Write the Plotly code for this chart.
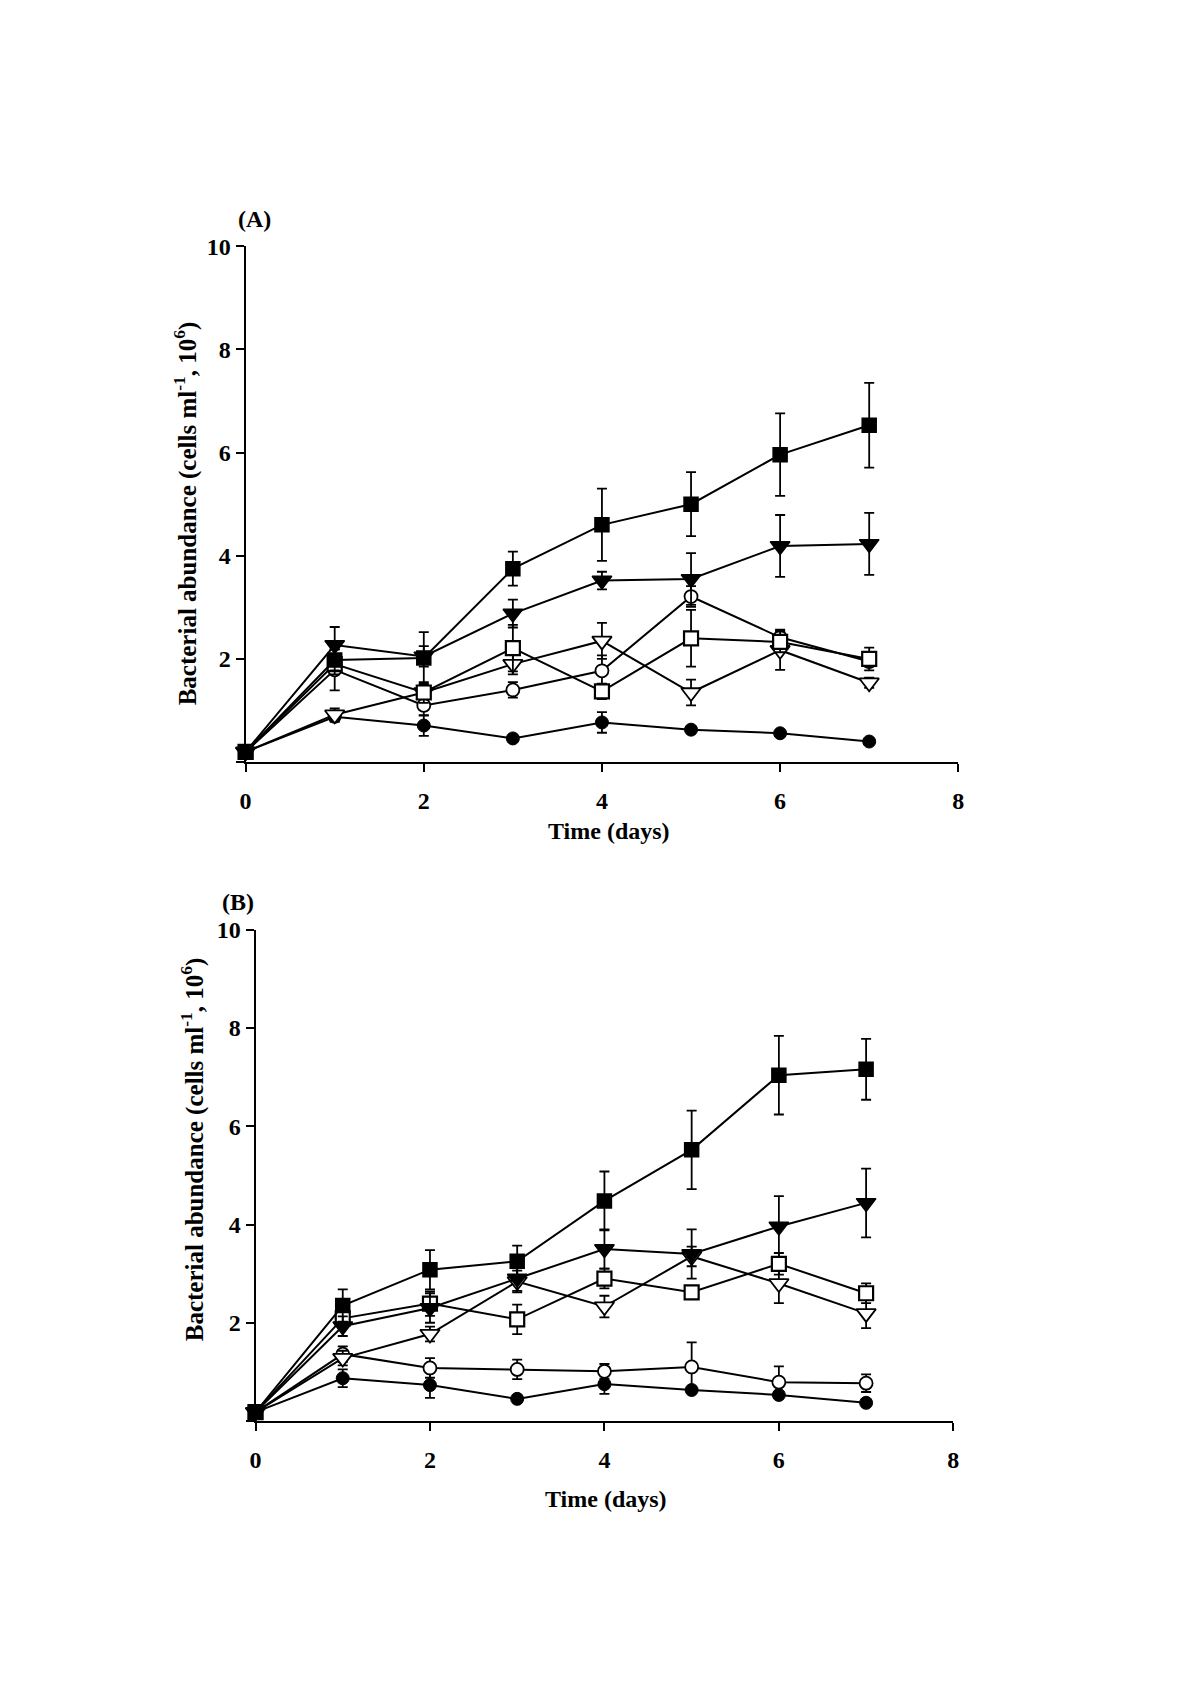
import plotly.graph_objects as go

days = [0, 1, 2, 3, 4, 5, 6, 7]

# Panel A
a_fsq = [0.2, 1.98, 2.02, 3.75, 4.6, 5.0, 5.96, 6.53]
a_fsq_err = [0.05, 0.2, 0.5, 0.33, 0.7, 0.62, 0.8, 0.82]
a_ftri = [0.2, 2.27, 2.05, 2.88, 3.52, 3.55, 4.19, 4.23]
a_ftri_err = [0.05, 0.35, 0.2, 0.27, 0.17, 0.5, 0.6, 0.6]
a_ocir = [0.2, 1.79, 1.1, 1.4, 1.77, 3.21, 2.42, 1.95]
a_ocir_err = [0.05, 0.4, 0.2, 0.15, 0.3, 0.2, 0.15, 0.1]
a_osq = [0.2, 1.9, 1.35, 2.21, 1.37, 2.4, 2.33, 2.0]
a_osq_err = [0.05, 0.2, 0.2, 0.45, 0.15, 0.55, 0.2, 0.22]
a_otri = [0.2, 0.92, 1.35, 1.9, 2.35, 1.35, 2.17, 1.54]
a_otri_err = [0.05, 0.12, 0.15, 0.2, 0.35, 0.25, 0.38, 0.1]
a_fcir = [0.2, 0.88, 0.71, 0.46, 0.77, 0.63, 0.56, 0.4]
a_fcir_err = [0.05, 0.1, 0.2, 0.05, 0.2, 0.05, 0.05, 0.05]

# Panel B
b_fsq = [0.18, 2.35, 3.08, 3.25, 4.48, 5.52, 7.04, 7.16]
b_fsq_err = [0.05, 0.33, 0.4, 0.32, 0.6, 0.8, 0.8, 0.62]
b_ftri = [0.18, 1.93, 2.3, 2.9, 3.5, 3.4, 3.96, 4.44]
b_ftri_err = [0.05, 0.2, 0.3, 0.25, 0.4, 0.5, 0.62, 0.7]
b_osq = [0.18, 2.09, 2.39, 2.07, 2.9, 2.62, 3.2, 2.6]
b_osq_err = [0.05, 0.15, 0.25, 0.3, 0.2, 0.1, 0.22, 0.2]
b_otri = [0.18, 1.28, 1.77, 2.84, 2.33, 3.35, 2.8, 2.19]
b_otri_err = [0.05, 0.15, 0.15, 0.22, 0.22, 0.2, 0.4, 0.3]
b_ocir = [0.18, 1.36, 1.08, 1.05, 1.01, 1.1, 0.79, 0.77]
b_ocir_err = [0.05, 0.16, 0.2, 0.2, 0.15, 0.5, 0.32, 0.18]
b_fcir = [0.18, 0.87, 0.73, 0.45, 0.75, 0.63, 0.53, 0.37]
b_fcir_err = [0.05, 0.18, 0.26, 0.05, 0.2, 0.05, 0.05, 0.06]

x_ticks = [0, 2, 4, 6, 8]
y_ticks = [0, 2, 4, 6, 8, 10]
y_ticktext = ["", "2", "4", "6", "8", "10"]
y_title = "Bacterial abundance (cells ml<sup>-1</sup>, 10<sup>6</sup>)"
x_title = "Time (days)"

# page offset of the plot div inside the browser window
OX, OY = 9, 16
W, H = 1196 - 2 * OX, 1694 - 2 * OY
FONT = "Liberation Serif"

styles = {
    "fsq": dict(symbol="square", size=14, color="black", line=dict(color="black", width=1.5)),
    "ftri": dict(symbol="triangle-down", size=17, color="black", line=dict(color="black", width=1.5)),
    "ocir": dict(symbol="circle", size=13, color="white", line=dict(color="black", width=1.8)),
    "osq": dict(symbol="square", size=14, color="white", line=dict(color="black", width=2.2)),
    "otri": dict(symbol="triangle-down", size=17, color="white", line=dict(color="black", width=1.8)),
    "fcir": dict(symbol="circle", size=13, color="black", line=dict(color="black", width=1)),
}

fig = go.Figure()

def add(series, err, key, xa, ya):
    fig.add_trace(go.Scatter(
        x=days, y=series, mode="lines+markers",
        line=dict(color="black", width=2),
        marker=styles[key],
        error_y=dict(type="data", array=err, visible=True, color="black", thickness=1.8, width=5),
        xaxis=xa, yaxis=ya, showlegend=False, cliponaxis=False,
    ))

for s, e, k in [(a_fcir, a_fcir_err, "fcir"), (a_otri, a_otri_err, "otri"), (a_ocir, a_ocir_err, "ocir"),
                (a_osq, a_osq_err, "osq"), (a_ftri, a_ftri_err, "ftri"), (a_fsq, a_fsq_err, "fsq")]:
    add(s, e, k, "x", "y")
for s, e, k in [(b_fcir, b_fcir_err, "fcir"), (b_ocir, b_ocir_err, "ocir"), (b_otri, b_otri_err, "otri"),
                (b_osq, b_osq_err, "osq"), (b_ftri, b_ftri_err, "ftri"), (b_fsq, b_fsq_err, "fsq")]:
    add(s, e, k, "x2", "y2")

tickfont = dict(family=FONT, size=24, color="black", weight="bold")
axcommon = dict(showgrid=False, zeroline=False, showline=True, linecolor="black", linewidth=2,
                ticks="outside", ticklen=8, tickwidth=1.8, tickcolor="black", tickfont=tickfont)

def px2x(p):
    return (p - OX) / W

def px2y(p):
    return 1 - (p - OY) / H

fig.update_layout(
    width=W, height=H, margin=dict(l=0, r=0, t=0, b=0),
    paper_bgcolor="white", plot_bgcolor="white",
    xaxis=dict(domain=[px2x(243), px2x(963)], range=[0, 8], tickvals=x_ticks, anchor="y",
               ticklabelstandoff=8, **axcommon),
    yaxis=dict(domain=[px2y(763), px2y(243)], range=[0, 10], tickvals=y_ticks, ticktext=y_ticktext,
               anchor="x", **axcommon),
    xaxis2=dict(domain=[px2x(253), px2x(958)], range=[0, 8], tickvals=x_ticks, anchor="y2",
                ticklabelstandoff=8, **axcommon),
    yaxis2=dict(domain=[px2y(1427), px2y(932)], range=[0, 10], tickvals=y_ticks, ticktext=y_ticktext,
                anchor="x2", **axcommon),
)

def ann(text, x, y, size=24, angle=0):
    fig.add_annotation(text="<b>" + text + "</b>", x=px2x(x), y=px2y(y), xref="paper", yref="paper",
                       showarrow=False, textangle=angle, xanchor="center", yanchor="middle",
                       font=dict(family=FONT, size=size, color="black"))

ann("(A)", 252, 216, size=24)
ann("(B)", 235, 904, size=24)
ann(y_title, 182, 512, size=25, angle=-90)
ann(y_title, 189, 1153, size=25, angle=-90)
ann(x_title, 610, 832, size=24)
ann(x_title, 607, 1506, size=24)

fig.write_html("out.html")
